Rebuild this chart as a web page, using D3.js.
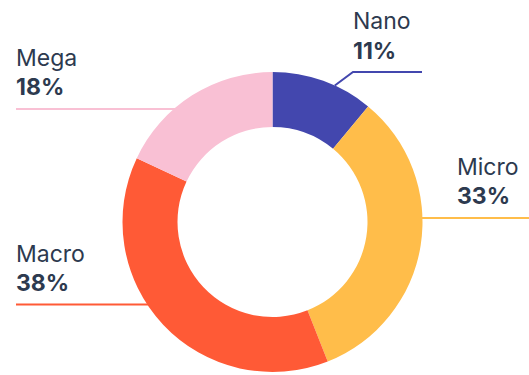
<!DOCTYPE html>
<html>
<head>
<meta charset="utf-8">
<script src="https://cdn.jsdelivr.net/npm/d3@7"></script>
<style>
  html, body { margin: 0; padding: 0; background: #ffffff; }
  svg { display: block; }
  text { font-family: "Inter", "Lato", sans-serif; fill: #2d3a4f; }
</style>
</head>
<body>
<svg id="chart" width="529" height="375"></svg>
<script>
// Share of creators by tier, clockwise from 12 o'clock
const categories = ["Nano", "Micro", "Macro", "Mega"];
const shares = [11, 33, 38, 18];
const colors = ["#4347ae", "#ffbd4a", "#ff5a36", "#f9c0d4"];

const W = 529, H = 375;
const cx = 272.5, cy = 222;
const rOuter = 150, rInner = 95;

const svg = d3.select("#chart");

const pie = d3.pie().sort(null).value(d => d.value).startAngle(0).endAngle(2 * Math.PI);
const arcs = pie(categories.map((c, i) => ({ name: c, value: shares[i], color: colors[i] })));
const arc = d3.arc().innerRadius(rInner).outerRadius(rOuter);

// point on the outer rim at a given horizontal line (left or right side)
const rimX = (y, side) => cx + side * Math.sqrt(rOuter * rOuter - (y - cy) * (y - cy));

// label layout: text anchor, text line positions and leader line path
const layout = {
  Nano:  { x: 353, y1: 29, y2: 59,
           line: a => {
             const ang = a.startAngle + (a.endAngle - a.startAngle) * 0.62;
             const p = [cx + rOuter * Math.sin(ang), cy - rOuter * Math.cos(ang)];
             return [p, [353, 72], [422, 72]];
           } },
  Micro: { x: 457, y1: 175, y2: 204,
           line: () => [[rimX(218, 1) - 2, 218], [W, 218]] },
  Macro: { x: 16, y1: 262, y2: 291,
           line: () => [[16, 304.5], [rimX(304.5, -1) + 2, 304.5]] },
  Mega:  { x: 16, y1: 66, y2: 95,
           line: () => [[16, 109], [rimX(109, -1) + 2, 109]] }
};

// leader lines
const lineGen = d3.line();
svg.append("g")
  .selectAll("path")
  .data(arcs)
  .join("path")
  .attr("d", d => lineGen(layout[d.data.name].line(d)))
  .attr("fill", "none")
  .attr("stroke", d => d.data.color)
  .attr("stroke-width", 2);

// donut slices
svg.append("g")
  .attr("transform", `translate(${cx},${cy})`)
  .selectAll("path")
  .data(arcs)
  .join("path")
  .attr("d", arc)
  .attr("fill", d => d.data.color);

// labels
const labels = svg.append("g")
  .selectAll("g")
  .data(arcs)
  .join("g");

labels.append("text")
  .attr("x", d => layout[d.data.name].x)
  .attr("y", d => layout[d.data.name].y1)
  .attr("font-size", 23)
  .attr("font-weight", 400)
  .text(d => d.data.name);

labels.append("text")
  .attr("x", d => layout[d.data.name].x)
  .attr("y", d => layout[d.data.name].y2)
  .attr("font-size", 23)
  .attr("font-weight", 700)
  .text(d => d.data.value + "%");
</script>
</body>
</html>
